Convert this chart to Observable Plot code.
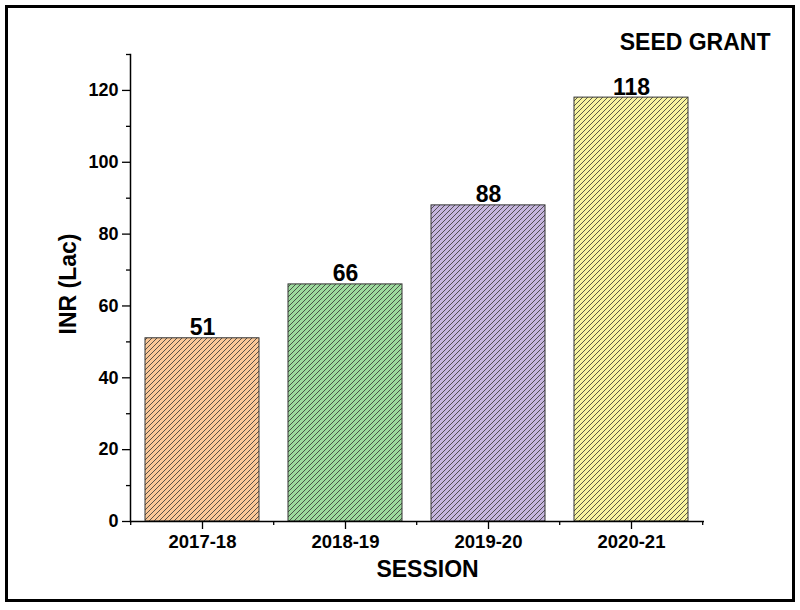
<!DOCTYPE html>
<html>
<head>
<meta charset="utf-8">
<script src="https://cdn.jsdelivr.net/npm/d3@7"></script>
<script src="https://cdn.jsdelivr.net/npm/@observablehq/plot@0.6"></script>
<style>
  html, body { margin: 0; padding: 0; background: #fff; }
  #wrap { position: relative; width: 800px; height: 610px; }
  #border { position: absolute; left: 5px; top: 5px; width: 790px; height: 597px; border: 3px solid #000; box-sizing: border-box; pointer-events: none; }
  #chart { position: absolute; left: 0; top: 0; }
</style>
</head>
<body>
<div id="wrap"><div id="chart"></div><div id="border"></div></div>
<script>
const sessions = ["2017-18", "2018-19", "2019-20", "2020-21"];
const values = [51, 66, 88, 118];
const fills = ["#FAC898", "#9EDB9E", "#C6B6DE", "#F8F4A0"];
const majorTicks = [0, 20, 40, 60, 80, 100, 120];
const minorTicks = [10, 30, 50, 70, 90, 110, 130];
const title = "SEED GRANT";
const xLabel = "SESSION";
const yLabel = "INR (Lac)";

const data = sessions.map((s, i) => ({session: s, value: values[i], fill: `url(#hatch${i})`}));

const W = 800, H = 610, mL = 130, mR = 96, mT = 54, mB = 89;
const font = "'Liberation Sans', Arial, sans-serif";

const defsMark = () => {
  const defs = d3.create("svg:defs");
  fills.forEach((c, i) => {
    const p = defs.append("pattern")
      .attr("id", `hatch${i}`)
      .attr("patternUnits", "userSpaceOnUse")
      .attr("width", 5).attr("height", 5);
    p.append("rect").attr("width", 5).attr("height", 5).attr("fill", c);
    p.append("path")
      .attr("d", "M-1,1 L1,-1 M0,5 L5,0 M4,6 L6,4")
      .attr("stroke", "#333").attr("stroke-opacity", 0.8).attr("stroke-width", 1);
  });
  const g = d3.create("svg:g");
  g.node().appendChild(defs.node());
  return g.node();
};

// minor x ticks at band boundaries, placed from the band scale
const boundaryTicks = (index, scales) => {
  const x = scales.x, y = scales.y;
  const xs = sessions.map(s => x(s));
  const stepPx = xs[1] - xs[0];
  const bw = 0.8 * stepPx;
  const off = (stepPx - bw) / 2;
  const pos = xs.map(v => v - off).concat([xs[xs.length - 1] + bw + off]);
  const g = d3.create("svg:g").attr("stroke", "#000").attr("stroke-width", 1.3);
  const y0 = y(0);
  pos.forEach(p => g.append("line").attr("x1", p).attr("x2", p).attr("y1", y0).attr("y2", y0 + 4));
  return g.node();
};

const plot = Plot.plot({
  width: W, height: H,
  marginLeft: mL, marginRight: mR, marginTop: mT, marginBottom: mB,
  style: {fontFamily: font, background: "transparent"},
  x: {domain: sessions, paddingInner: 0.2, paddingOuter: 0.1, axis: null},
  y: {domain: [0, 130], axis: null},
  color: {type: "identity"},
  marks: [
    defsMark,
    Plot.barY(data, {x: "session", y: "value", fill: "fill", stroke: "#333", strokeWidth: 1}),
    Plot.text(data, {x: "session", y: "value", text: d => String(d.value), lineAnchor: "bottom", dy: -3,
      fontSize: 23, fontWeight: "bold", fill: "#000"}),
    // y axis
    Plot.axisY({ticks: minorTicks, tickSize: 4, text: null, label: null, stroke: "#000", strokeWidth: 1.3}),
    Plot.axisY({ticks: majorTicks, tickSize: 8, tickPadding: 4, fontSize: 18, fontWeight: "bold", fill: "#000", stroke: "#000", strokeWidth: 1.3, label: null}),
    Plot.frame({anchor: "left", stroke: "#000", strokeWidth: 1.5}),
    // x axis
    Plot.ruleY([0], {stroke: "#000", strokeWidth: 1.5}),
    Plot.axisX({tickSize: 8, tickPadding: 5, fontSize: 18.5, fontWeight: "bold", fill: "#000", stroke: "#000", strokeWidth: 1.3, label: null}),
    boundaryTicks,
    // labels
    Plot.text([xLabel], {frameAnchor: "bottom", dx: 10, dy: 48, lineAnchor: "middle", textAnchor: "middle", text: d => d, fontSize: 23, fontWeight: "bold", fill: "#000"}),
    Plot.text([yLabel], {frameAnchor: "left", dx: -62, dy: -4, rotate: -90, lineAnchor: "middle", textAnchor: "middle", text: d => d, fontSize: 23, fontWeight: "bold", fill: "#000"}),
    Plot.text([title], {frameAnchor: "top-right", dx: 66, dy: -12, lineAnchor: "middle", textAnchor: "end", text: d => d, fontSize: 23, fontWeight: "bold", fill: "#000"})
  ]
});
document.getElementById("chart").appendChild(plot);
</script>
</body>
</html>
